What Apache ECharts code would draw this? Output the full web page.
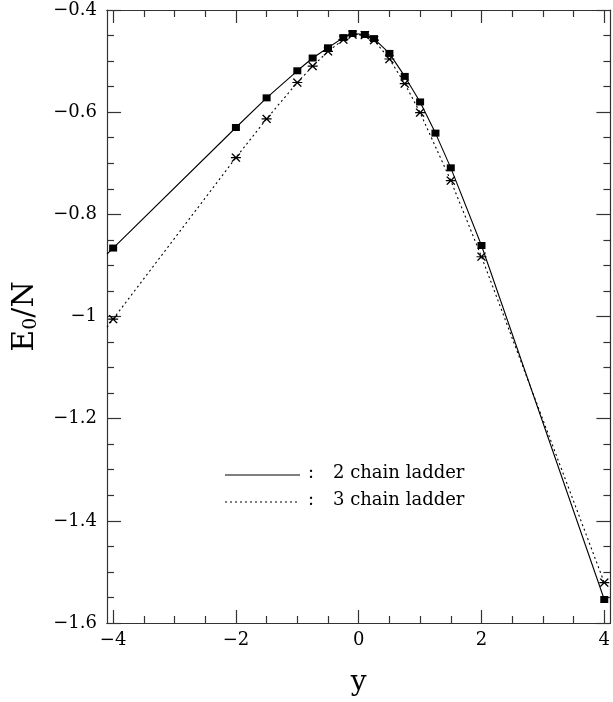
<!DOCTYPE html>
<html>
<head>
<meta charset="utf-8">
<script src="https://cdn.jsdelivr.net/npm/echarts@6/dist/echarts.min.js"></script>
<style>
  html, body { margin: 0; padding: 0; background: #fff; }
  #chart { width: 613px; height: 702px; }
</style>
</head>
<body>
<div id="chart"></div>
<script>
// Ground-state energy per site versus y for 2- and 3-chain ladders
const ladder2X = [-4, -2, -1.5, -1, -0.75, -0.5, -0.25, -0.1, 0.1, 0.25, 0.5, 0.75, 1, 1.25, 1.5, 2, 4];
const ladder2E = [-0.866, -0.630, -0.572, -0.519, -0.494, -0.474, -0.454, -0.446, -0.448, -0.456, -0.485, -0.530, -0.580, -0.641, -0.709, -0.861, -1.554];

const ladder3X = [-4, -2, -1.5, -1, -0.75, -0.5, -0.25, -0.1, 0.1, 0.25, 0.5, 0.75, 1, 1.5, 2, 4];
const ladder3E = [-1.005, -0.689, -0.613, -0.542, -0.510, -0.481, -0.458, -0.448, -0.449, -0.459, -0.496, -0.544, -0.601, -0.734, -0.883, -1.521];

// where each curve meets the left frame
const edgeX = -4.1;
const ladder2Edge = -0.878;
const ladder3Edge = -1.021;

const xMajorTicks = [-4, -2, 0, 2, 4];
const xMinorTicks = [-3.5, -3, -2.5, -1.5, -1, -0.5, 0.5, 1, 1.5, 2.5, 3, 3.5];
const yTickMin = -1.6, yTickMax = -0.4, yTickStep = 0.2;

const legendNames = ['2 chain ladder', '3 chain ladder'];

const serif = '"DejaVu Serif", "Liberation Serif", serif';
const frameColor = '#333';

function fmt(v) {
  const r = Math.round(v * 10) / 10;
  return String(r).replace('-', '\u2212');
}

function lineData(xs, ys, edgeY) {
  const d = [{ value: [edgeX, edgeY], symbol: 'none' }];
  xs.forEach((x, i) => d.push([x, ys[i]]));
  return d;
}

const xBase = { type: 'value', min: -4.1, max: 4.1, splitLine: { show: false } };

function xAxis(position, ticks, len, withLabels) {
  return Object.assign({}, xBase, {
    position: position,
    axisLine: { show: true, onZero: false, lineStyle: { color: frameColor, width: 1.2 } },
    axisTick: { show: true, inside: true, length: len, customValues: ticks,
                lineStyle: { color: frameColor, width: 1.2 } },
    axisLabel: withLabels
      ? { show: true, customValues: ticks, formatter: fmt, margin: 8,
          fontFamily: serif, fontSize: 18, color: '#000' }
      : { show: false }
  });
}

function yAxis(position, withLabels) {
  return {
    type: 'value', position: position,
    min: yTickMin, max: yTickMax, interval: yTickStep,
    splitLine: { show: false },
    axisLine: { show: true, onZero: false, lineStyle: { color: frameColor, width: 1.2 } },
    axisTick: { show: true, inside: true, length: 14, lineStyle: { color: frameColor, width: 1.2 } },
    minorTick: { show: true, splitNumber: 4, length: 7, lineStyle: { color: frameColor, width: 1.2 } },
    axisLabel: withLabels
      ? { show: true, formatter: fmt, margin: 10, fontFamily: serif, fontSize: 18, color: '#000' }
      : { show: false }
  };
}

const chart = echarts.init(document.getElementById('chart'), null, { renderer: 'canvas' });

const asterisk = 'path://M0,4L10,4M1,0L9,8M9,0L1,8';

chart.setOption({
  animation: false,
  backgroundColor: '#fff',
  grid: { left: 107, right: -2, top: 10, bottom: 72, containLabel: false },
  xAxis: [
    Object.assign(xAxis('bottom', xMajorTicks, 13, true), {
      name: 'y', nameLocation: 'middle', nameGap: 46,
      nameTextStyle: { fontFamily: serif, fontSize: 28, color: '#000' }
    }),
    xAxis('bottom', xMinorTicks, 7, false),
    xAxis('top', xMajorTicks, 13, false),
    xAxis('top', xMinorTicks, 7, false)
  ],
  yAxis: [
    Object.assign(yAxis('left', true), {
      name: '{e|E}{s|0}{e|/N}', nameLocation: 'middle', nameGap: 66, nameRotate: 90,
      nameTextStyle: {
        color: '#000',
        rich: {
          e: { fontFamily: serif, fontSize: 30, color: '#000' },
          s: { fontFamily: serif, fontSize: 19, color: '#000', padding: [12, 0, 0, 0] }
        }
      }
    }),
    yAxis('right', false)
  ],
  series: [
    {
      name: legendNames[0], type: 'line', xAxisIndex: 0, yAxisIndex: 0,
      data: lineData(ladder2X, ladder2E, ladder2Edge),
      symbol: 'rect', symbolSize: [8, 7], showAllSymbol: true,
      itemStyle: { color: '#000' },
      lineStyle: { color: '#000', width: 1.1, type: 'solid' },
      z: 3
    },
    {
      name: legendNames[1], type: 'line', xAxisIndex: 0, yAxisIndex: 0,
      data: lineData(ladder3X, ladder3E, ladder3Edge),
      symbol: asterisk, symbolSize: [10, 8], showAllSymbol: true,
      itemStyle: { color: 'none', borderColor: '#000', borderWidth: 1.3 },
      lineStyle: { color: '#000', width: 1.1, type: [2, 3] },
      z: 2
    }
  ],
  graphic: [
    { type: 'line', shape: { x1: 225, y1: 475, x2: 300, y2: 475 },
      style: { stroke: '#000', lineWidth: 1.1 } },
    { type: 'text', left: 308, top: 464,
      style: { text: ':', font: '18px ' + serif, fill: '#000' } },
    { type: 'text', left: 333, top: 464,
      style: { text: legendNames[0], font: '18px ' + serif, fill: '#000' } },
    { type: 'line', shape: { x1: 225, y1: 502, x2: 300, y2: 502 },
      style: { stroke: '#000', lineWidth: 1.1, lineDash: [2, 3] } },
    { type: 'text', left: 308, top: 491,
      style: { text: ':', font: '18px ' + serif, fill: '#000' } },
    { type: 'text', left: 333, top: 491,
      style: { text: legendNames[1], font: '18px ' + serif, fill: '#000' } }
  ]
});
</script>
</body>
</html>
